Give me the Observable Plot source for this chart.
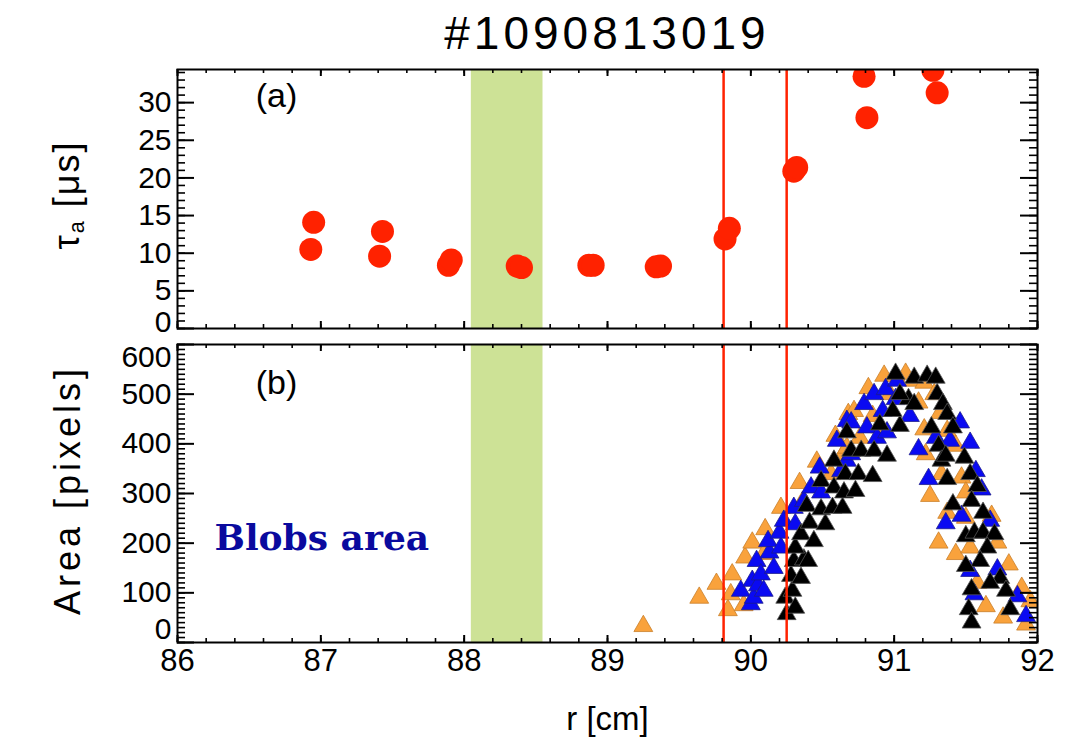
<!DOCTYPE html>
<html><head><meta charset="utf-8">
<script src="https://cdn.jsdelivr.net/npm/d3@7"></script>
<script src="https://cdn.jsdelivr.net/npm/@observablehq/plot@0.6"></script>
<style>
body{margin:0;background:#fff;}
#wrap{position:relative;width:1065px;height:749px;overflow:hidden;font-family:"Liberation Sans",Arial,sans-serif;color:#000;}
.abs{position:absolute;white-space:nowrap;}
</style></head><body><div id="wrap"></div>
<script>
// ---------- data ----------
const title = "#1090813019";
const xLabel = "r [cm]";
const xTicks = [86, 87, 88, 89, 90, 91, 92];
const tauTicks = [0, 5, 10, 15, 20, 25, 30];
const areaTicks = [0, 100, 200, 300, 400, 500, 600];
const band = [88.05, 88.55];          // shaded region
const cuts = [89.81, 90.25];          // red vertical lines

// panel (a): tau_a vs r
const tauR   = [86.93, 86.95, 87.41, 87.43, 87.89, 87.91, 88.37, 88.40, 88.87, 88.90, 89.34, 89.37, 89.82, 89.85, 90.30, 90.32, 90.79, 90.81, 91.27, 91.30];
const tauVal = [10.5, 14.1, 9.6, 12.9, 8.4, 9.1, 8.3, 8.1, 8.4, 8.4, 8.2, 8.3, 11.9, 13.3, 20.9, 21.4, 33.5, 28.0, 34.3, 31.3];

// panel (b): blob area [r, area]
const orangeBlobs = [[89.25,33],[89.64,90],[89.76,118],[89.84,65],[89.86,97],[89.87,137],[89.95,75],[89.96,171],[90.01,201],[90.09,178],[90.10,228],[90.21,271],[90.34,321],[90.36,283],[90.46,364],[90.56,339],[90.59,416],[90.63,372],[90.67,392],[90.68,460],[90.72,466],[90.76,412],[90.82,512],[90.85,456],[90.90,433],[90.93,537],[91.01,537],[91.08,541],[91.14,527],[91.21,523],[91.28,500],[91.17,483],[90.97,500],[91.21,429],[91.22,379],[91.25,295],[91.32,462],[91.33,339],[91.37,426],[91.43,396],[91.47,332],[91.50,302],[91.37,261],[91.50,251],[91.31,201],[91.43,178],[91.53,191],[91.68,255],[91.72,201],[91.80,157],[91.58,120],[91.64,73],[91.76,50],[91.89,110],[91.95,83],[91.92,36]];
const blueBlobs = [[89.93,104],[90.00,77],[90.02,90],[90.01,124],[90.05,115],[90.04,164],[90.07,137],[90.09,104],[90.13,181],[90.12,204],[90.16,150],[90.21,191],[90.20,221],[90.23,245],[90.31,238],[90.30,271],[90.37,285],[90.42,312],[90.49,302],[90.48,352],[90.60,406],[90.63,345],[90.67,446],[90.67,366],[90.70,379],[90.70,443],[90.79,480],[90.81,433],[90.86,500],[90.88,412],[90.92,466],[90.94,510],[90.95,423],[91.01,490],[91.02,527],[91.11,456],[91.17,389],[91.24,329],[91.29,412],[91.36,240],[91.39,406],[91.46,443],[91.53,402],[91.57,345],[91.61,308],[91.67,245],[91.47,255],[91.53,144],[91.72,147],[91.56,97],[91.86,93],[91.92,53]];
const blackBlobs = [[90.25,57],[90.24,90],[90.31,70],[90.29,104],[90.28,134],[90.35,130],[90.30,164],[90.37,167],[90.40,164],[90.31,191],[90.35,218],[90.44,204],[90.41,241],[90.52,238],[90.39,275],[90.49,268],[90.57,271],[90.64,271],[90.49,325],[90.58,312],[90.65,302],[90.58,366],[90.66,339],[90.75,339],[90.73,305],[90.85,335],[90.67,423],[90.70,386],[90.77,386],[90.86,386],[90.95,376],[90.90,439],[91.04,436],[90.99,466],[91.10,490],[91.14,480],[91.04,500],[91.01,541],[91.14,533],[91.23,537],[91.29,533],[91.30,500],[91.34,480],[91.37,460],[91.41,433],[91.26,433],[91.31,396],[91.33,366],[91.36,376],[91.49,372],[91.37,329],[91.53,339],[91.58,315],[91.41,278],[91.54,285],[91.62,261],[91.50,214],[91.56,221],[91.62,221],[91.70,218],[91.65,191],[91.60,164],[91.50,154],[91.74,130],[91.67,120],[91.54,107],[91.78,104],[91.81,67],[91.52,67],[91.54,40]];

// ---------- styling ----------
const FONT = '"Liberation Sans", Arial, sans-serif';
const RED = "#ff2200", GREEN = "#cde296";
const series = [
  {pts: orangeBlobs, fill: "#f9a23c", stroke: "#c97f2a"},
  {pts: blueBlobs,   fill: "#0a0af2", stroke: "#1c1c8c"},
  {pts: blackBlobs,  fill: "#000000", stroke: "#555555"}
];
const blobs = series.flatMap(s => s.pts.map(p => ({r: p[0], a: p[1], fill: s.fill, stroke: s.stroke})));
const tau = tauR.map((r, i) => ({r, t: tauVal[i]}));

const W = 1065, ML = 177, MR = 28, FW = W - ML - MR;
const wrap = document.getElementById("wrap");

function frameTicks(frameH, yMajor, yMinor) {
  const xMinor = d3.range(0, 31).map(i => 86 + i * 0.2);
  return [
    Plot.tickY(yMajor, {stroke: "black", strokeWidth: 2, insetRight: FW - 17}),
    Plot.tickY(yMajor, {stroke: "black", strokeWidth: 2, insetLeft: FW - 17}),
    Plot.tickY(yMinor, {stroke: "black", strokeWidth: 1.6, insetRight: FW - 8}),
    Plot.tickY(yMinor, {stroke: "black", strokeWidth: 1.6, insetLeft: FW - 8}),
    Plot.tickX(xTicks, {stroke: "black", strokeWidth: 2, insetTop: frameH - 7}),
    Plot.tickX(xTicks, {stroke: "black", strokeWidth: 2, insetBottom: frameH - 7}),
    Plot.tickX(xMinor, {stroke: "black", strokeWidth: 1.6, insetTop: frameH - 4}),
    Plot.tickX(xMinor, {stroke: "black", strokeWidth: 1.6, insetBottom: frameH - 4}),
    Plot.frame({stroke: "black", strokeWidth: 2})
  ];
}
function yLabels(inner, edges) {
  const o = {frameAnchor: "left", y: d => d, text: d => String(d), textAnchor: "end", lineAnchor: "middle", dx: -6, fontSize: 30};
  return [Plot.text(inner, o), ...edges.map(([v, dy]) => Plot.text([v], {...o, dy}))];
}

// ---------- panel (a) ----------
const hA = 275, mtA = 9, mbA = 7, fhA = hA - mtA - mbA;
const plotA = Plot.plot({
  width: W, height: hA, marginLeft: ML, marginRight: MR, marginTop: mtA, marginBottom: mbA,
  x: {domain: [86, 92], axis: null},
  y: {domain: [0, 34.4], axis: null},
  style: {fontFamily: FONT, background: "transparent", color: "black", overflow: "visible"},
  marks: [
    Plot.rect([band], {x1: d => d[0], x2: d => d[1], fill: GREEN}),
    Plot.ruleX(cuts, {stroke: RED, strokeWidth: 2.5}),
    Plot.dot(tau, {x: "r", y: "t", r: 11.5, fill: RED, clip: true}),
    ...frameTicks(fhA, tauTicks, d3.range(0, 35)),
    ...yLabels(tauTicks.slice(1), [[0, -6]]),
    Plot.text(["(a)"], {text: d => d, frameAnchor: "top-left", dx: 99, dy: 27, textAnchor: "middle", lineAnchor: "middle", fontSize: 34})
  ]
});
plotA.style.position = "absolute"; plotA.style.left = "0px"; plotA.style.top = "60px";
wrap.appendChild(plotA);

// ---------- panel (b) ----------
const hB = 414, mtB = 9, mbB = 107, fhB = hB - mtB - mbB;
const plotB = Plot.plot({
  width: W, height: hB, marginLeft: ML, marginRight: MR, marginTop: mtB, marginBottom: mbB,
  x: {domain: [86, 92], axis: null},
  y: {domain: [0, 600], axis: null},
  style: {fontFamily: FONT, background: "transparent", color: "black", overflow: "visible"},
  marks: [
    Plot.rect([band], {x1: d => d[0], x2: d => d[1], fill: GREEN}),
    Plot.dot(blobs, {x: "r", y: "a", symbol: "triangle", r: 7, fill: d => d.fill, stroke: d => d.stroke, strokeWidth: 0.8, clip: true}),
    Plot.ruleX(cuts, {stroke: RED, strokeWidth: 2.5}),
    ...frameTicks(fhB, areaTicks, d3.range(0, 601, 10)),
    ...yLabels(areaTicks.slice(1, -1), [[0, -13], [600, 13]]),
    Plot.text(xTicks, {x: d => d, text: d => String(d), frameAnchor: "bottom", dy: 19, lineAnchor: "middle", fontSize: 31}),
    Plot.text([xLabel], {text: d => d, frameAnchor: "bottom", dy: 77, lineAnchor: "middle", fontSize: 33, letterSpacing: "3px"}),
    Plot.text(["(b)"], {text: d => d, frameAnchor: "top-left", dx: 99, dy: 39, textAnchor: "middle", lineAnchor: "middle", fontSize: 34}),
    Plot.text(["Blobs area"], {text: d => d, frameAnchor: "top-left", dx: 37, dy: 194, textAnchor: "start", lineAnchor: "middle", fontSize: 36, fontWeight: "bold", fontFamily: '"DejaVu Serif", serif', fill: "#0a0a9e"})
  ]
});
plotB.style.position = "absolute"; plotB.style.left = "0px"; plotB.style.top = "335px";
wrap.appendChild(plotB);

// ---------- html texts ----------
function addDiv(html, css) {
  const d = document.createElement("div");
  d.className = "abs"; d.innerHTML = html; Object.assign(d.style, css);
  wrap.appendChild(d);
}
addDiv(title, {left: ML + "px", width: FW + "px", top: "0px", lineHeight: "66px", textAlign: "center", fontSize: "46px", letterSpacing: "4px"});
addDiv('τ<sub style="font-size:60%;vertical-align:-0.25em">a</sub> [μs]', {left: "68px", top: "195px", fontSize: "36px", transform: "translate(-50%,-50%) rotate(-90deg)", letterSpacing: "2px"});
addDiv("Area [pixels]", {left: "68px", top: "490px", fontSize: "36px", transform: "translate(-50%,-50%) rotate(-90deg)", letterSpacing: "4px"});
</script></body></html>
